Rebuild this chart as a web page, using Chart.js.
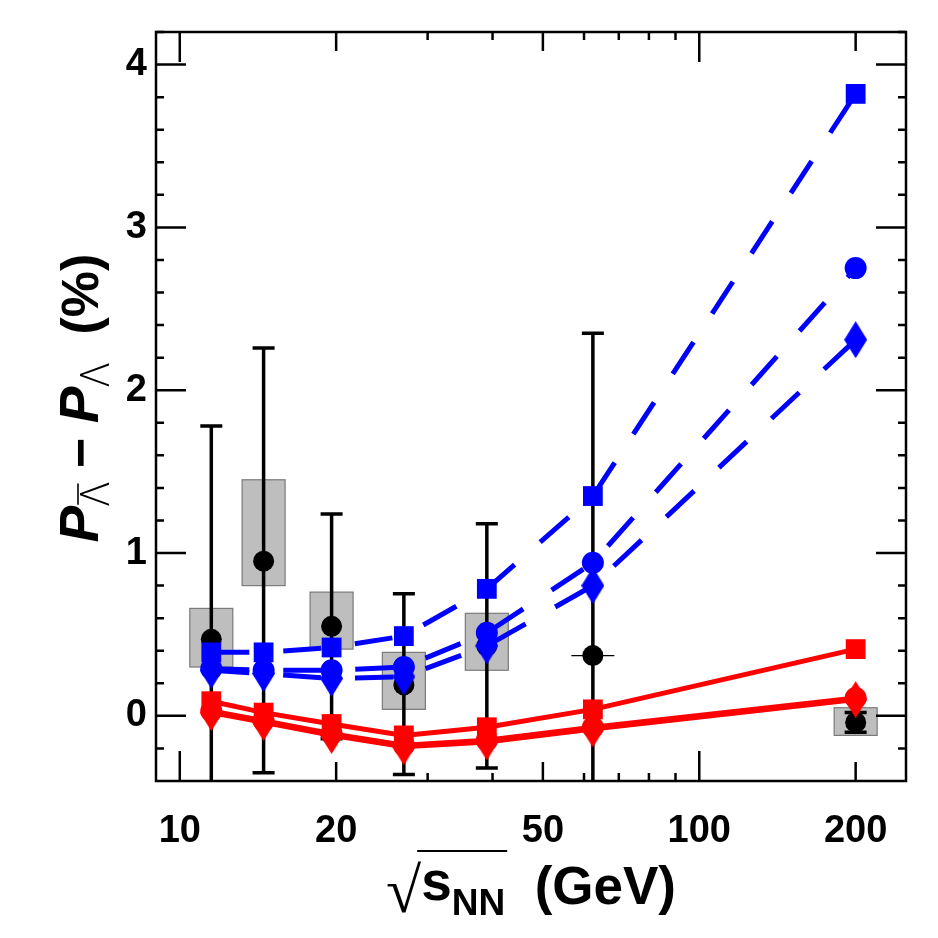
<!DOCTYPE html>
<html><head><meta charset="utf-8">
<script src="https://cdn.jsdelivr.net/npm/chart.js@4.4.1/dist/chart.umd.min.js"></script>
<style>html,body{margin:0;padding:0;background:#fff;}#wrap{width:938px;height:938px;}</style>
</head><body><div id="wrap"><canvas id="c" width="938" height="938"></canvas></div>
<script>
// ---- data ----
const energies = [11.5, 14.5, 19.6, 27, 39, 62.4, 200];
const starY    = [0.47, 0.95, 0.55, 0.19, 0.43, 0.37, -0.04];
const statHigh = [1.78, 2.26, 1.24, 0.75, 1.18, 2.35, 0.02];
const statLow  = [-0.86, -0.35, -0.14, -0.36, -0.32, -1.61, -0.10];
const sysHigh  = [0.66, 1.45, 0.76, 0.39, 0.63, 0.372, 0.05];
const sysLow   = [0.30, 0.80, 0.41, 0.04, 0.28, 0.368, -0.12];
const blueSquare  = [0.39, 0.39, 0.42, 0.49, 0.78, 1.35, 3.82];
const blueCircle  = [0.29, 0.28, 0.28, 0.30, 0.51, 0.94, 2.75];
const blueDiamond = [0.28, 0.26, 0.23, 0.24, 0.43, 0.80, 2.31];
const redSquare   = [0.09, 0.02, -0.05, -0.12, -0.07, 0.04, 0.41];
const redCircle   = [0.03, -0.03, -0.11, -0.18, -0.15, -0.07, 0.11];
const redDiamond  = [0.02, -0.04, -0.12, -0.19, -0.16, -0.08, 0.10];
const xLabelTicks = [10, 20, 50, 100, 200];
const xLongTicks  = [10, 100];
const xMidTicks   = [20, 50, 200];
const xShortTicks = [30, 40, 60, 70, 80, 90];
const yMajorTicks = [0, 1, 2, 3, 4];
const yMinorTicks = [-0.2, 0.2, 0.4, 0.6, 0.8, 1.2, 1.4, 1.6, 1.8, 2.2, 2.4, 2.6, 2.8, 3.2, 3.4, 3.6, 3.8, 4.2];

const pts = arr => energies.map((e, i) => ({x: e, y: arr[i]}));

function diamondCanvas(color) {
  const c = document.createElement('canvas');
  c.width = 23; c.height = 37;
  const g = c.getContext('2d');
  g.fillStyle = color;
  g.beginPath();
  g.moveTo(11.5, 0); g.lineTo(23, 18.5); g.lineTo(11.5, 37); g.lineTo(0, 18.5);
  g.closePath(); g.fill();
  return c;
}
const blueDia = diamondCanvas('#0000ff');
const redDia = diamondCanvas('#ff0000');

const BLUE = '#0000ff', RED = '#ff0000';
const dash = [38, 34];

function lineSet(arr, color, style, dashed, order) {
  return {
    type: 'line', data: pts(arr), borderColor: color, backgroundColor: color,
    borderWidth: 5, borderDash: dashed ? dash : [], borderCapStyle: 'butt',
    pointStyle: style, pointRadius: style === 'rect' ? 14 : 11,
    pointBorderWidth: 0, pointBackgroundColor: color, tension: 0, order: order, clip: 0
  };
}

const errPlugin = {
  id: 'errPlugin',
  beforeDatasetsDraw(chart) {
    const {ctx, chartArea: a, scales: {x, y}} = chart;
    ctx.save();
    ctx.beginPath(); ctx.rect(a.left, a.top, a.right - a.left, a.bottom - a.top); ctx.clip();
    energies.forEach((e, i) => {
      const px = x.getPixelForValue(e);
      const t = y.getPixelForValue(sysHigh[i]), b = y.getPixelForValue(sysLow[i]);
      if (b - t < 3) {
        ctx.strokeStyle = '#000'; ctx.lineWidth = 1.2;
        ctx.beginPath(); ctx.moveTo(px - 21.5, (t + b) / 2); ctx.lineTo(px + 21.5, (t + b) / 2); ctx.stroke();
      } else {
        ctx.fillStyle = '#bebebe'; ctx.fillRect(px - 21.5, t, 43, b - t);
        ctx.strokeStyle = '#7a7a7a'; ctx.lineWidth = 1.2; ctx.strokeRect(px - 21.5, t, 43, b - t);
      }
    });
    ctx.strokeStyle = '#000'; ctx.lineWidth = 3.5;
    energies.forEach((e, i) => {
      const px = x.getPixelForValue(e);
      const t = y.getPixelForValue(statHigh[i]), b = y.getPixelForValue(statLow[i]);
      ctx.beginPath(); ctx.moveTo(px, t); ctx.lineTo(px, b);
      ctx.moveTo(px - 11, t); ctx.lineTo(px + 11, t);
      ctx.moveTo(px - 11, b); ctx.lineTo(px + 11, b);
      ctx.stroke();
    });
    ctx.restore();
  }
};

const framePlugin = {
  id: 'framePlugin',
  afterDatasetsDraw(chart) {
    const {ctx, chartArea: a, scales: {x, y}} = chart;
    ctx.save();
    ctx.strokeStyle = '#000'; ctx.lineWidth = 2.5; ctx.lineCap = 'butt';
    ctx.strokeRect(a.left, a.top, a.right - a.left, a.bottom - a.top);
    const vt = (vals, len) => vals.forEach(v => {
      const p = x.getPixelForValue(v);
      ctx.beginPath(); ctx.moveTo(p, a.bottom); ctx.lineTo(p, a.bottom - len);
      ctx.moveTo(p, a.top); ctx.lineTo(p, a.top + len); ctx.stroke();
    });
    const ht = (vals, len) => vals.forEach(v => {
      const p = y.getPixelForValue(v);
      ctx.beginPath(); ctx.moveTo(a.left, p); ctx.lineTo(a.left + len, p);
      ctx.moveTo(a.right, p); ctx.lineTo(a.right - len, p); ctx.stroke();
    });
    vt(xLongTicks, 30); vt(xMidTicks, 19); vt(xShortTicks, 8);
    ht(yMajorTicks, 30); ht(yMinorTicks, 8);
    ctx.restore();
  },
  afterDraw(chart) {
    const ctx = chart.ctx;
    // y title
    ctx.save();
    ctx.fillStyle = '#000'; ctx.strokeStyle = '#000';
    ctx.translate(98, 398); ctx.rotate(-Math.PI / 2);
    ctx.textBaseline = 'alphabetic';
    const big = 'italic bold 55px "Liberation Sans"';
    const sub = '300 40px "Open Sans"';
    const reg = 'bold 52px "Liberation Sans"';
    const parts = [
      {t: 'P', f: big, dy: 0},
      {t: 'Λ', f: sub, dy: 11, over: true},
      {t: ' − ', f: reg, dy: 0},
      {t: 'P', f: big, dy: 0},
      {t: 'Λ', f: sub, dy: 11},
      {t: '  (%)', f: reg, dy: 0}
    ];
    let W = 0;
    parts.forEach(p => { ctx.font = p.f; p.w = ctx.measureText(p.t).width; W += p.w; });
    let cx = -W / 2;
    parts.forEach(p => {
      ctx.font = p.f; ctx.fillText(p.t, cx, p.dy);
      if (p.over) {
        ctx.lineWidth = 1.6; ctx.beginPath();
        ctx.moveTo(cx + 1, p.dy - 31); ctx.lineTo(cx + p.w - 1, p.dy - 31); ctx.stroke();
      }
      cx += p.w;
    });
    ctx.restore();
    // x title
    ctx.save();
    ctx.fillStyle = '#000'; ctx.strokeStyle = '#000';
    const xp = [
      {t: '√', f: '300 64px "DejaVu Sans"', dy: 912},
      {t: 's', f: 'bold 55px "Liberation Sans"', dy: 900, over: true},
      {t: 'NN', f: 'bold 37px "Liberation Sans"', dy: 915, over: true},
      {t: '  (GeV)', f: 'bold 53px "Liberation Sans"', dy: 904}
    ];
    let XW = 0;
    xp.forEach(p => { ctx.font = p.f; p.w = ctx.measureText(p.t).width; XW += p.w; });
    let xx = 531 - XW / 2;
    let ovS = null, ovE = null;
    xp.forEach(p => {
      ctx.font = p.f; ctx.fillText(p.t, xx, p.dy);
      if (p.over) { if (ovS === null) ovS = xx - 2; ovE = xx + p.w + 2; }
      xx += p.w;
    });
    ctx.lineWidth = 2; ctx.beginPath(); ctx.moveTo(ovS - 2, 851); ctx.lineTo(ovE, 851); ctx.stroke();
    ctx.restore();
  }
};

const tickFont = {family: '"Liberation Sans", Arial, sans-serif', size: 38, weight: 'bold'};

new Chart(document.getElementById('c'), {
  type: 'scatter',
  data: {
    datasets: [
      lineSet(redSquare, RED, 'rect', false, 1),
      lineSet(redCircle, RED, 'circle', false, 1),
      lineSet(redDiamond, RED, redDia, false, 1),
      lineSet(blueSquare, BLUE, 'rect', true, 2),
      lineSet(blueCircle, BLUE, 'circle', true, 2),
      lineSet(blueDiamond, BLUE, blueDia, true, 2),
      {type: 'scatter', data: pts(starY), pointStyle: 'circle', pointRadius: 10.5,
       pointBackgroundColor: '#000', pointBorderWidth: 0, order: 3, showLine: false}
    ]
  },
  options: {
    responsive: false, animation: false, devicePixelRatio: 1,
    layout: {padding: {left: 0, right: 32, top: 32, bottom: 0}},
    plugins: {legend: {display: false}, tooltip: {enabled: false}},
    scales: {
      x: {
        type: 'logarithmic', min: 9, max: 250,
        afterFit(s) { s.height = 157; },
        afterBuildTicks(s) { s.ticks = xLabelTicks.map(v => ({value: v})); },
        ticks: {callback: v => String(v), font: tickFont, color: '#000', padding: 28, autoSkip: false, maxRotation: 0},
        grid: {display: false, drawTicks: false}, border: {display: false}
      },
      y: {
        type: 'linear', min: -0.4, max: 4.2,
        afterFit(s) { s.width = 156; },
        afterBuildTicks(s) { s.ticks = yMajorTicks.map(v => ({value: v})); },
        ticks: {callback: v => String(v), font: tickFont, color: '#000', padding: 9},
        grid: {display: false, drawTicks: false}, border: {display: false}
      }
    }
  },
  plugins: [errPlugin, framePlugin]
});
</script></body></html>
